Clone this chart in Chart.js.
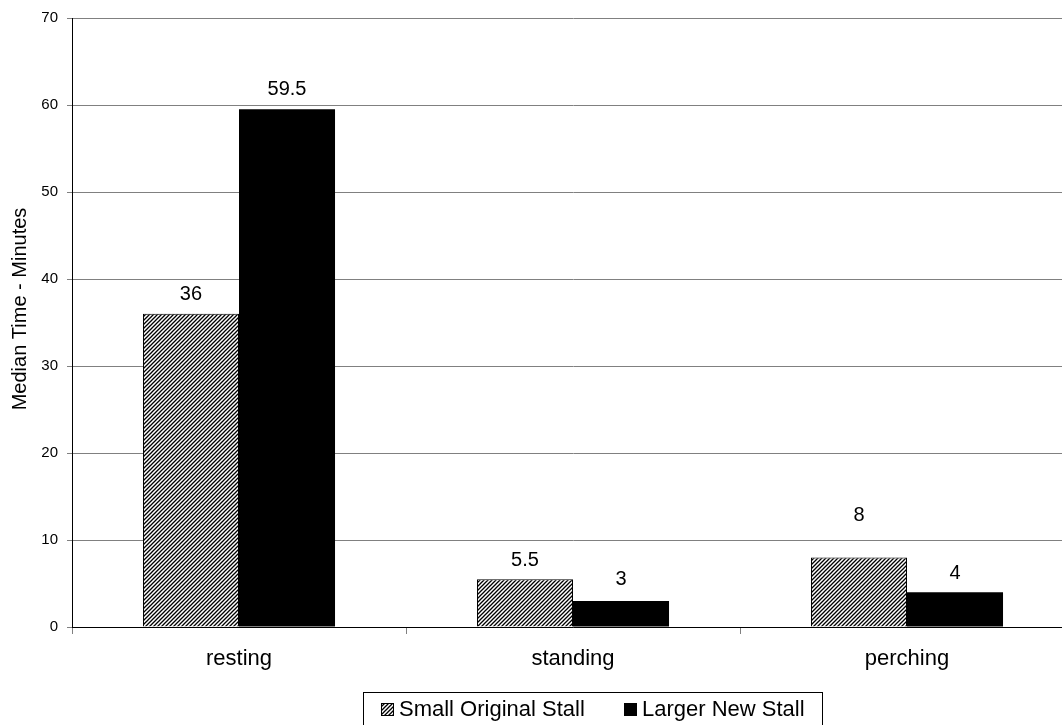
<!DOCTYPE html>
<html>
<head>
<meta charset="utf-8">
<script src="https://cdn.jsdelivr.net/npm/chart.js@4/dist/chart.umd.min.js"></script>
<style>
  html, body { margin: 0; padding: 0; overflow: hidden; background: #fff; }
  #wrap { width: 1090px; height: 725px; }
</style>
</head>
<body>
<div id="wrap"><canvas id="behaviourChart"></canvas></div>
<script>
const categories = ['resting', 'standing', 'perching'];
const smallStall = [36, 5.5, 8];
const largerStall = [59.5, 3, 4];
const seriesNames = ['Small Original Stall', 'Larger New Stall'];
const yTitle = 'Median Time - Minutes';
const yTicks = [0, 10, 20, 30, 40, 50, 60, 70];

const fontFamily = '"Liberation Sans", Arial, sans-serif';

// diagonal hatch like the old excel fill
function makeHatch() {
    const c = document.createElement('canvas');
    c.width = 4;
    c.height = 4;
    const g = c.getContext('2d');
    g.fillStyle = '#fff';
    g.fillRect(0, 0, 4, 4);
    g.strokeStyle = '#000';
    g.lineWidth = 1.3;
    g.beginPath();
    g.moveTo(-1, 5); g.lineTo(5, -1);
    g.moveTo(-1, 1); g.lineTo(1, -1);
    g.moveTo(3, 5); g.lineTo(5, 3);
    g.stroke();
    return g.createPattern(c, 'repeat');
}
const hatch = makeHatch();

// label lift above each bar (excel put the "8" higher)
const labelLift = [[19, 19, 42], [20, 21, 19]];

const extrasPlugin = {
    id: 'extras',
    afterDatasetsDraw(chart) {
        const ctx = chart.ctx;
        ctx.save();
        ctx.fillStyle = '#000';
        ctx.font = '20px ' + fontFamily;
        ctx.textAlign = 'center';
        ctx.textBaseline = 'middle';
        chart.data.datasets.forEach((ds, di) => {
            chart.getDatasetMeta(di).data.forEach((bar, i) => {
                ctx.fillText(String(ds.data[i]), bar.x, bar.y - labelLift[di][i]);
            });
        });
        ctx.restore();
    },
    afterDraw(chart) {
        const ctx = chart.ctx;
        ctx.save();
        // y axis title
        ctx.translate(20, 309);
        ctx.rotate(-Math.PI / 2);
        ctx.fillStyle = '#000';
        ctx.font = '20px ' + fontFamily;
        ctx.textAlign = 'center';
        ctx.textBaseline = 'middle';
        ctx.fillText(yTitle, 0, 0);
        ctx.restore();

        // legend box
        ctx.save();
        ctx.font = '22px ' + fontFamily;
        ctx.textBaseline = 'middle';
        ctx.textAlign = 'left';
        const x1 = 381, x2 = 624, sw = 13;
        const endX = x2 + sw + 5 + ctx.measureText(seriesNames[1]).width;
        ctx.strokeStyle = '#000';
        ctx.lineWidth = 1;
        ctx.strokeRect(363.5, 692.5, Math.round(endX + 17 - 363), 40);
        const items = [
            { x: x1, fill: hatch, text: seriesNames[0] },
            { x: x2, fill: '#000', text: seriesNames[1] }
        ];
        items.forEach(it => {
            ctx.fillStyle = it.fill;
            ctx.fillRect(it.x, 703, sw, sw);
            ctx.strokeStyle = '#000';
            ctx.strokeRect(it.x + 0.5, 703.5, sw - 1, sw - 1);
            ctx.fillStyle = '#000';
            ctx.fillText(it.text, it.x + sw + 5, 710);
        });
        ctx.restore();
    }
};

new Chart(document.getElementById('behaviourChart'), {
    type: 'bar',
    data: {
        labels: categories,
        datasets: [
            {
                label: seriesNames[0],
                data: smallStall,
                backgroundColor: hatch,
                borderColor: '#000',
                borderWidth: 1,
                borderSkipped: 'bottom'
            },
            {
                label: seriesNames[1],
                data: largerStall,
                backgroundColor: '#000',
                borderColor: '#000',
                borderWidth: 0
            }
        ]
    },
    options: {
        responsive: true,
        maintainAspectRatio: false,
        animation: false,
        layout: { padding: { top: 17, right: 16, left: 0, bottom: 0 } },
        datasets: { bar: { barPercentage: 1, categoryPercentage: 0.575 } },
        plugins: {
            legend: { display: false },
            tooltip: { enabled: false }
        },
        scales: {
            x: {
                grid: {
                    drawOnChartArea: false,
                    drawTicks: true,
                    tickLength: 7,
                    color: '#808080'
                },
                border: { color: '#000', width: 1 },
                ticks: {
                    color: '#000',
                    padding: 12,
                    font: { family: fontFamily, size: 22 },
                    maxRotation: 0
                },
                afterFit(scale) { scale.height = 98; }
            },
            y: {
                min: 0,
                max: 70,
                afterBuildTicks(scale) { scale.ticks = yTicks.map(v => ({ value: v })); },
                grid: {
                    color: '#808080',
                    tickLength: 5,
                    drawTicks: true
                },
                border: { color: '#000', width: 1 },
                ticks: {
                    color: '#000',
                    padding: 9,
                    font: { family: fontFamily, size: 15 }
                },
                afterFit(scale) { scale.width = 72; }
            }
        }
    },
    plugins: [extrasPlugin]
});
</script>
</body>
</html>
